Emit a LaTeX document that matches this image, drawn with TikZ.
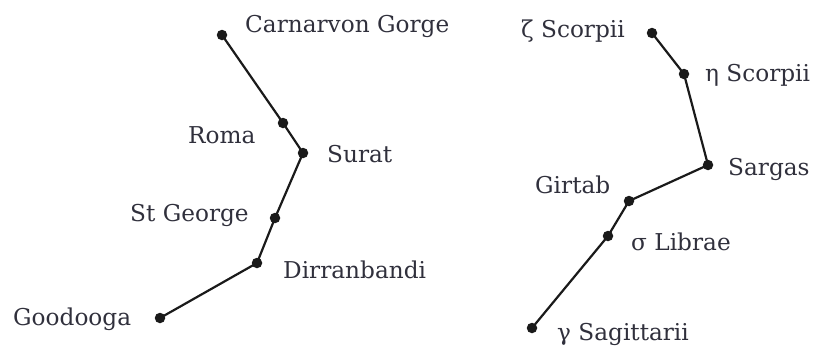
\documentclass[tikz,border=0pt]{standalone}
\usepackage{fontspec}
\setmainfont{DejaVu Serif}
\definecolor{txt}{HTML}{30303C}
\definecolor{ink}{HTML}{1A1A1A}
\begin{document}
\begin{tikzpicture}[x=1pt,y=-1pt,
  star/.style={circle,fill=ink,inner sep=0pt,minimum size=10.5pt},
  lbl/.style={anchor=base west,inner sep=0pt,text=txt,font=\fontsize{23.2}{27}\selectfont},
  link/.style={draw=ink,line width=2.2pt}]
\useasboundingbox (0,0) rectangle (814,351);
% left chain
\node[star] (cg) at (222,35) {};
\node[star] (ro) at (283,123) {};
\node[star] (su) at (303,153) {};
\node[star] (sg) at (275,218) {};
\node[star] (di) at (257,263) {};
\node[star] (go) at (160,318) {};
\draw[link] (cg.center) -- (ro.center) -- (su.center) -- (sg.center) -- (di.center) -- (go.center);
\node[lbl] (lcg) at (245,32) {Carnarvon Gorge};
\node[lbl] (lro) at (188,143) {Roma};
\node[lbl] (lsu) at (327,162) {Surat};
\node[lbl] (lsg) at (130,221) {St George};
\node[lbl] (ldi) at (283,278) {Dirranbandi};
\node[lbl] (lgo) at (13,325) {Goodooga};
% right chain
\node[star] (ze) at (652,33) {};
\node[star] (et) at (684,74) {};
\node[star] (sa) at (708,165) {};
\node[star] (gi) at (629,201) {};
\node[star] (si) at (608,236) {};
\node[star] (ga) at (532,328) {};
\draw[link] (ze.center) -- (et.center) -- (sa.center) -- (gi.center) -- (si.center) -- (ga.center);
\node[lbl] (lze) at (521,37) {ζ Scorpii};
\node[lbl] (let) at (705,81) {η Scorpii};
\node[lbl] (lsa) at (728,175) {Sargas};
\node[lbl] (lgi) at (535,193) {Girtab};
\node[lbl] (lsi) at (631,250) {σ Librae};
\node[lbl] (lga) at (557,340) {γ Sagittarii};
\end{tikzpicture}
\end{document}
